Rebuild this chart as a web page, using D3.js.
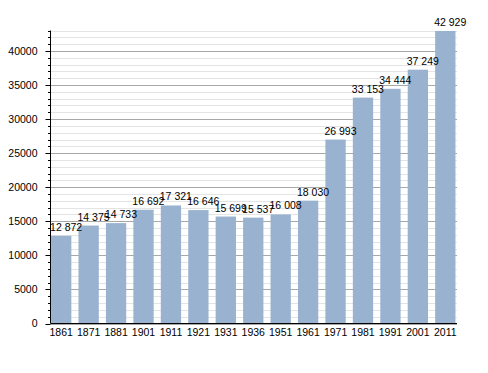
<!DOCTYPE html>
<html>
<head>
<meta charset="utf-8">
<script src="https://cdn.jsdelivr.net/npm/d3@7"></script>
<style>
  body { margin: 0; background: #fff; }
  text { font-family: "Liberation Sans", Arial, sans-serif; font-size: 10.5px; fill: #000; }
</style>
</head>
<body>
<div id="chart"></div>
<script>
// census years and population
const years = ['1861', '1871', '1881', '1901', '1911', '1921', '1931', '1936', '1951', '1961', '1971', '1981', '1991', '2001', '2011'];
const population = [12872, 14375, 14733, 16692, 17321, 16646, 15699, 15537, 16008, 18030, 26993, 33153, 34444, 37249, 42929];
const yMajorTicks = [0, 5000, 10000, 15000, 20000, 25000, 30000, 35000, 40000];

const width = 488, height = 373;
const plotLeft = 50.5, plotRight = 457, plotTop = 30.5, plotBottom = 323.5;

const svg = d3.select('#chart').append('svg')
  .attr('width', width)
  .attr('height', height);

const x = d3.scaleBand()
  .domain(years)
  .range([plotLeft, plotRight - 1])
  .paddingInner(0.26)
  .paddingOuter(0.02);

const y = d3.scaleLinear()
  .domain([0, 43000])
  .range([plotBottom, plotTop]);

const minor = d3.range(0, 43001, 1000);

// grid lines
svg.append('g')
  .selectAll('line')
  .data(minor)
  .enter().append('line')
  .attr('x1', plotLeft)
  .attr('x2', plotRight)
  .attr('y1', d => Math.round(y(d)) + 0.5)
  .attr('y2', d => Math.round(y(d)) + 0.5)
  .attr('stroke', d => d % 5000 === 0 ? '#a8a8a8' : '#e4e4e4')
  .attr('stroke-width', 1);

// bars
svg.append('g')
  .selectAll('rect')
  .data(years)
  .enter().append('rect')
  .attr('x', d => x(d))
  .attr('width', x.bandwidth())
  .attr('y', (d, i) => y(population[i]))
  .attr('height', (d, i) => plotBottom - y(population[i]))
  .attr('fill', '#98b2cf');

// value labels
const fmt = v => d3.format(',')(v).replace(',', ' ');
svg.append('g')
  .selectAll('text')
  .data(years)
  .enter().append('text')
  .attr('x', d => x(d) - 1)
  .attr('y', (d, i) => y(population[i]) - 5)
  .text((d, i) => fmt(population[i]));

// y axis with minor ticks
const yAxis = svg.append('g').attr('transform', `translate(${plotLeft},0)`);
yAxis.append('line')
  .attr('x1', 0).attr('x2', 0)
  .attr('y1', plotTop).attr('y2', plotBottom)
  .attr('stroke', '#000');
yAxis.selectAll('.tick')
  .data(minor)
  .enter().append('line')
  .attr('class', 'tick')
  .attr('x1', d => d % 5000 === 0 ? -5 : -2.5)
  .attr('x2', 0)
  .attr('y1', d => Math.round(y(d)) + 0.5)
  .attr('y2', d => Math.round(y(d)) + 0.5)
  .attr('stroke', '#000');
yAxis.selectAll('.lbl')
  .data(yMajorTicks)
  .enter().append('text')
  .attr('class', 'lbl')
  .attr('x', -13)
  .attr('y', d => y(d))
  .attr('dy', '0.35em')
  .attr('text-anchor', 'end')
  .text(d => d);

// x axis
const xAxis = svg.append('g');
xAxis.append('line')
  .attr('x1', plotLeft).attr('x2', plotRight)
  .attr('y1', plotBottom).attr('y2', plotBottom)
  .attr('stroke', '#000');
xAxis.selectAll('text')
  .data(years)
  .enter().append('text')
  .attr('x', d => x(d) + x.bandwidth() / 2)
  .attr('y', plotBottom + 12.5)
  .attr('text-anchor', 'middle')
  .text(d => d);
</script>
</body>
</html>
